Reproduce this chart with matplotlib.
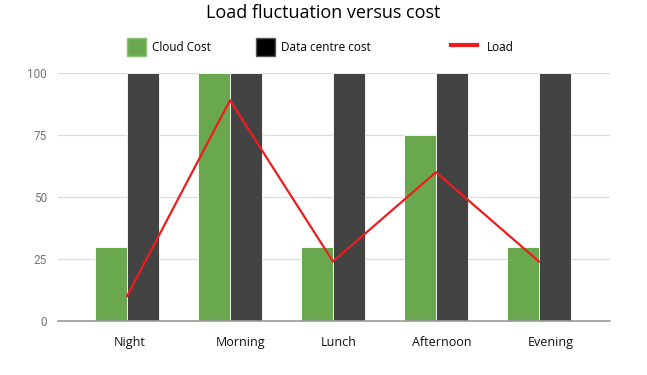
import matplotlib.pyplot as plt
import matplotlib.transforms as mtransforms
from matplotlib.patches import Patch
from matplotlib.lines import Line2D

# Данные графика
categories = ['Night', 'Morning', 'Lunch', 'Afternoon', 'Evening']
cloud_cost = [30, 100, 30, 75, 30]
dc_cost = [100, 100, 100, 100, 100]
load = [10, 89, 24, 60, 24]

green = '#6aa84f'
dark = '#434343'
red = '#ee1c1c'

plt.rcParams['font.family'] = ['Open Sans', 'DejaVu Sans']

fig = plt.figure(figsize=(6.47, 3.75), dpi=100)
ax = fig.add_axes([58 / 647, 1 - 321 / 375, (610 - 58) / 647, (321 - 73) / 375])

x = list(range(len(categories)))
w = 0.31
ax.bar([i - w / 2 for i in x], cloud_cost, width=w, color=green, edgecolor='white', linewidth=0.6, zorder=2)
ax.bar([i + w / 2 for i in x], dc_cost, width=w, color=dark, edgecolor='white', linewidth=0.6, zorder=2)
ax.plot(x, load, color=red, linewidth=1.6, zorder=3)

ax.set_xlim(-0.67, 4.69)
ax.set_ylim(0, 100)
ax.set_yticks([0, 25, 50, 75, 100])
ax.set_xticks(x)
ax.set_xticklabels(categories, fontsize=9, color='#111111')
ax.tick_params(axis='x', length=0, pad=11)
ax.tick_params(axis='y', length=0, pad=8, labelsize=8.5, labelcolor='#757575')
for lbl in ax.get_yticklabels():
    lbl.set_family('Roboto')
# подписи немного сдвинуты вправо, как в оригинале
shifts = [3, 11, 6, 6, 12]
for lbl, s in zip(ax.get_xticklabels(), shifts):
    lbl.set_transform(lbl.get_transform() + mtransforms.ScaledTranslation(s / 100, 0, fig.dpi_scale_trans))

ax.grid(axis='y', color='#dcdcdc', linewidth=0.9, zorder=0)
ax.set_axisbelow(True)
for s in ['top', 'right', 'left']:
    ax.spines[s].set_visible(False)
ax.spines['bottom'].set_color('#9a9a9a')
ax.spines['bottom'].set_linewidth(1.2)
ax.spines['bottom'].set_zorder(4)

fig.text(0.5, 1 - 13 / 375, 'Load fluctuation versus cost', ha='center', va='center', fontsize=13)

# легенда: три отдельных элемента
items = [
    (Patch(facecolor=green, edgecolor='#8fbf7a'), 'Cloud Cost', 127, 1.6, 0.5),
    (Patch(facecolor='black', edgecolor='#555555'), 'Data centre cost', 256, 1.6, 0.5),
    (Line2D([], [], color=red, linewidth=3), 'Load', 451, 2.2, 0.8),
]
for h, t, px, hl, tp in items:
    fig.legend([h], [t], loc='center left', bbox_to_anchor=(px / 647, 1 - 47 / 375),
               frameon=False, fontsize=8.5, handlelength=hl, handleheight=1.9,
               handletextpad=tp, borderaxespad=0, borderpad=0)

fig.savefig('out.png', dpi=100)
